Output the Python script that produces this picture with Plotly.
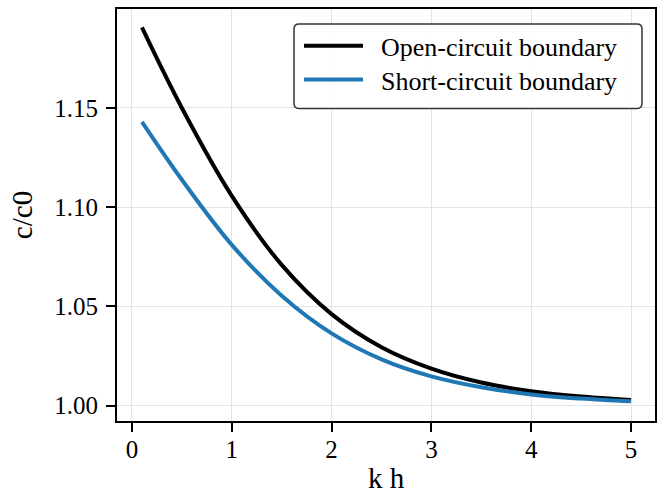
import plotly.graph_objects as go

kh = [0.1, 0.5, 1.0, 1.5, 2.0, 2.5, 3.0, 3.5, 4.0, 4.5, 5.0]
open_circuit = [1.1906, 1.1500, 1.1057, 1.0709, 1.0461, 1.0294, 1.0186, 1.0116, 1.0072, 1.0045, 1.0028]
short_circuit = [1.1430, 1.1138, 1.0810, 1.0554, 1.0364, 1.0233, 1.0147, 1.0092, 1.0056, 1.0035, 1.0021]

x_ticks = [0, 1, 2, 3, 4, 5]
y_ticks = [1.00, 1.05, 1.10, 1.15]
y_tick_text = ["1.00", "1.05", "1.10", "1.15"]
series_names = ["Open-circuit boundary", "Short-circuit boundary"]

FONT = "Liberation Serif"

fig = go.Figure()
fig.add_trace(go.Scatter(x=kh, y=open_circuit, mode="lines", name="\u2002" + series_names[0],
                         legend="legend",
                         line=dict(color="#000000", width=4, shape="spline", smoothing=1.0)))
fig.add_trace(go.Scatter(x=kh, y=short_circuit, mode="lines", name="\u2002" + series_names[1],
                         legend="legend2",
                         line=dict(color="#1f77b4", width=4, shape="spline", smoothing=1.0)))

W, H = 664, 501
L, R, T, B = 117, 9, 7, 80
pw, ph = W - L - R, H - T - B

def px2paper(xp, yp):
    return (xp - L) / pw, (H - B - yp) / ph

# rounded legend frame
x0, y0 = px2paper(294, 22)
x1, y1 = px2paper(642, 107)
rx, ry = 5 / pw, 5 / ph
path = (f"M{x0+rx},{y0} L{x1-rx},{y0} Q{x1},{y0} {x1},{y0-ry} "
        f"L{x1},{y1+ry} Q{x1},{y1} {x1-rx},{y1} L{x0+rx},{y1} Q{x0},{y1} {x0},{y1+ry} "
        f"L{x0},{y0-ry} Q{x0},{y0} {x0+rx},{y0} Z")
fig.add_shape(type="path", path=path, xref="paper", yref="paper",
              line=dict(color="#333333", width=1.5), fillcolor="rgba(255,255,255,0.9)", layer="above")

lx1, ly1 = px2paper(299, 44)
lx2, ly2 = px2paper(299, 78)
leg_common = dict(xanchor="left", yanchor="middle", bgcolor="rgba(0,0,0,0)", borderwidth=0,
                  font=dict(family=FONT, size=26), itemwidth=59)
fig.update_layout(
    width=W, height=H,
    margin=dict(l=L, r=R, t=T, b=B),
    paper_bgcolor="white", plot_bgcolor="white",
    font=dict(family=FONT, size=25, color="#000000"),
    showlegend=True,
    legend=dict(x=lx1, y=ly1, **leg_common),
    legend2=dict(x=lx2, y=ly2, **leg_common),
    xaxis=dict(range=[-0.15, 5.24], tickvals=x_ticks, ticks="outside", ticklen=9, tickwidth=1.5,
               tickcolor="#000000", showline=True, linecolor="#000000", linewidth=2, mirror=True,
               showgrid=True, gridcolor="#e3e3e3", gridwidth=1, zeroline=False,
               tickfont=dict(family=FONT, size=25), ticklabelstandoff=-4,
               title=dict(text="k h", font=dict(family=FONT, size=29), standoff=6)),
    yaxis=dict(range=[0.9922, 1.1999], tickvals=y_ticks, ticktext=y_tick_text, ticks="outside",
               ticklen=9, tickwidth=1.5, tickcolor="#000000", showline=True, linecolor="#000000",
               linewidth=2, mirror=True, showgrid=True, gridcolor="#e3e3e3", gridwidth=1,
               zeroline=False, tickfont=dict(family=FONT, size=25), ticklabelstandoff=3,
               title=dict(text="c/c0", font=dict(family=FONT, size=29), standoff=13)),
)

fig.write_html("out.html")
